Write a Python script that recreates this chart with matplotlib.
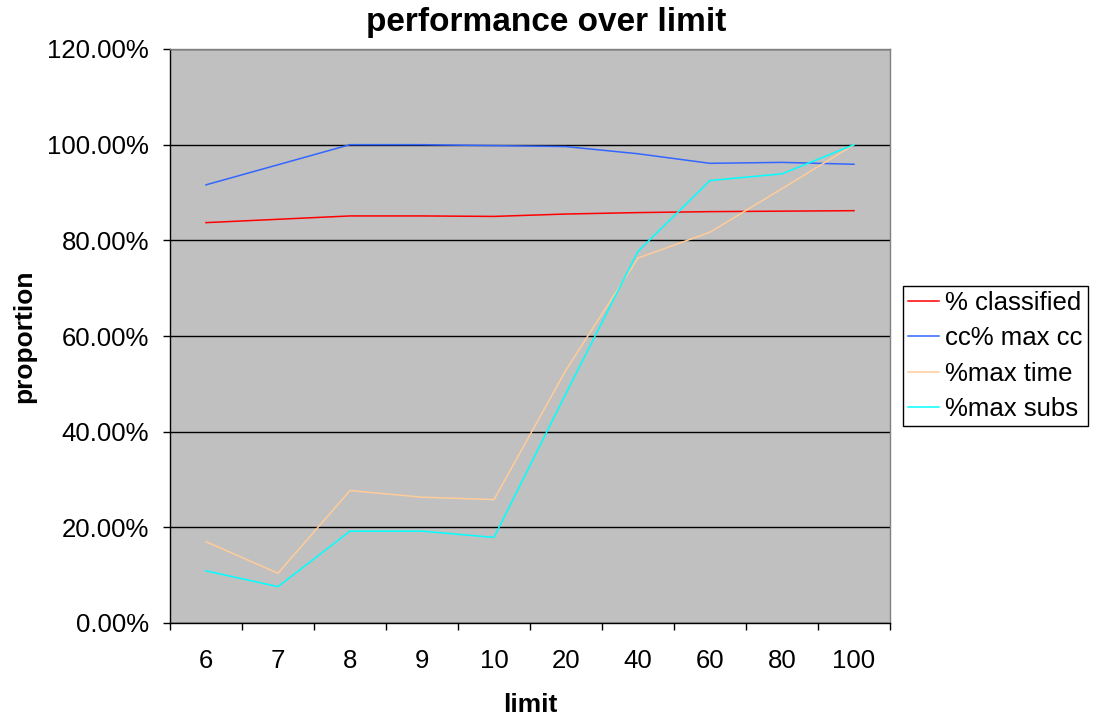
import matplotlib
matplotlib.use("Agg")
import matplotlib.pyplot as plt
from matplotlib.ticker import PercentFormatter, FixedLocator

plt.rcParams['font.family'] = ['Liberation Sans', 'DejaVu Sans']

limits = ["6", "7", "8", "9", "10", "20", "40", "60", "80", "100"]
pct_classified = [0.837, 0.844, 0.851, 0.851, 0.850, 0.855, 0.858, 0.860, 0.861, 0.862]
cc_pct_max_cc = [0.916, 0.958, 1.000, 1.000, 0.998, 0.996, 0.981, 0.961, 0.963, 0.959]
pct_max_time = [0.170, 0.104, 0.277, 0.263, 0.258, 0.529, 0.763, 0.817, 0.908, 1.000]
pct_max_subs = [0.109, 0.076, 0.192, 0.192, 0.179, 0.480, 0.777, 0.925, 0.939, 1.000]

series = [
    ("% classified", pct_classified, "#FF0000"),
    ("cc% max cc", cc_pct_max_cc, "#3366FF"),
    ("%max time", pct_max_time, "#FFCC99"),
    ("%max subs", pct_max_subs, "#00FFFF"),
]

fig = plt.figure(figsize=(10.98, 7.19), dpi=100)
ax = fig.add_axes([170 / 1098, (719 - 623) / 719, 720 / 1098, 574 / 719])
ax.set_facecolor("#C0C0C0")

x = list(range(len(limits)))
for name, vals, color in series:
    ax.plot(x, vals, color=color, lw=1.1, label=name, zorder=3)

ax.set_xlim(-0.5, len(limits) - 0.5)
ax.set_ylim(0, 1.2)

ax.set_yticks([0, 0.2, 0.4, 0.6, 0.8, 1.0, 1.2])
ax.yaxis.set_major_formatter(PercentFormatter(1.0, decimals=2))
ax.grid(axis="y", color="black", lw=1.0, zorder=1)
ax.set_axisbelow(True)

ax.set_xticks(x)
ax.set_xticklabels(limits)
ax.xaxis.set_minor_locator(FixedLocator([i - 0.5 for i in range(len(limits) + 1)]))
ax.tick_params(axis="x", which="major", length=0, pad=19, labelsize=18.5)
ax.tick_params(axis="x", which="minor", length=5, width=1, color="black")
ax.tick_params(axis="y", which="major", length=5, width=1, pad=10, labelsize=18.5)

for side in ("left", "bottom"):
    ax.spines[side].set_color("black")
    ax.spines[side].set_linewidth(1.0)
for side in ("top", "right"):
    ax.spines[side].set_color("#808080")
    ax.spines[side].set_linewidth(1.0)

ax.set_xlabel("limit", fontsize=19, fontweight="bold", labelpad=14)
ax.set_ylabel("proportion", fontsize=19, fontweight="bold", labelpad=8)

fig.text(0.497, 1 - 22 / 719, "performance over limit", fontsize=24,
         fontweight="bold", ha="center", va="center")

leg = ax.legend(loc="center left", bbox_to_anchor=(903 / 1098, 1 - 356 / 719),
                bbox_transform=fig.transFigure, fontsize=18.5, frameon=True,
                fancybox=False, edgecolor="black", framealpha=1,
                handlelength=1.2, handletextpad=0.25, labelspacing=0.45,
                borderpad=0.2, borderaxespad=0)
leg.get_frame().set_linewidth(1.0)

fig.savefig("out.png", dpi=100, facecolor="white")
